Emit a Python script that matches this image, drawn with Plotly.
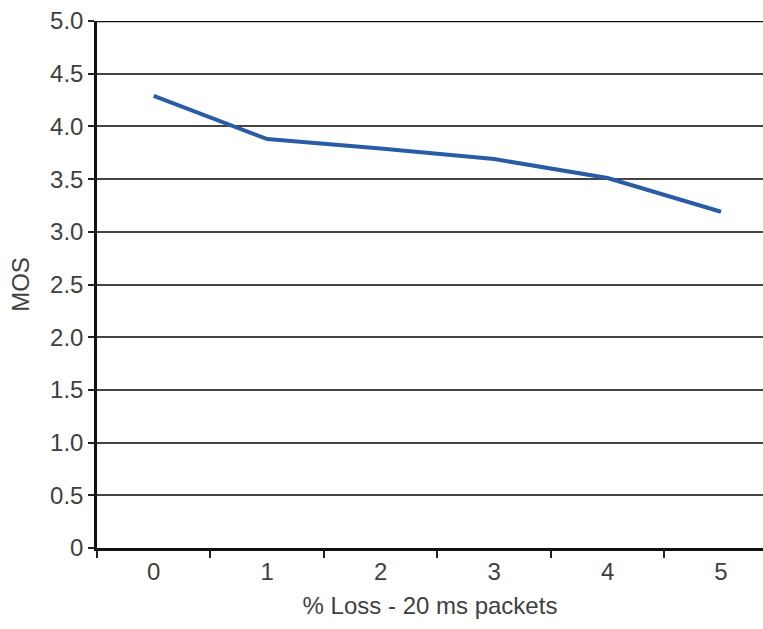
import plotly.graph_objects as go

categories = ["0", "1", "2", "3", "4", "5"]
mos_values = [4.29, 3.88, 3.79, 3.69, 3.51, 3.19]
y_tick_vals = [0, 0.5, 1.0, 1.5, 2.0, 2.5, 3.0, 3.5, 4.0, 4.5, 5.0]
y_tick_text = ["0", "0.5", "1.0", "1.5", "2.0", "2.5", "3.0", "3.5", "4.0", "4.5", "5.0"]

fig = go.Figure()
fig.add_trace(go.Scatter(
    x=categories, y=mos_values, mode="lines",
    line=dict(color="#2a5ca6", width=4),
    showlegend=False, hoverinfo="skip",
))

font = dict(family="Liberation Sans, Arial, sans-serif", size=24, color="#3f3f3f")

fig.update_layout(
    width=763, height=629,
    margin=dict(l=97, r=0, t=21, b=81, autoexpand=False),
    paper_bgcolor="white", plot_bgcolor="white",
    font=font,
    xaxis=dict(
        type="category", range=[-0.5, 5.37], tickson="boundaries",
        ticks="outside", ticklen=7, tickwidth=1.5, tickcolor="#222222",
        showline=True, linecolor="#111111", linewidth=2.5,
        showgrid=False, zeroline=False, tickfont=font, automargin=False,
        title=dict(text="% Loss - 20 ms packets", font=font, standoff=14),
    ),
    yaxis=dict(
        range=[0, 5.0], tickvals=y_tick_vals, ticktext=y_tick_text,
        ticks="outside", ticklen=6, tickwidth=1.5, tickcolor="#222222",
        showline=True, linecolor="#111111", linewidth=2.5,
        showgrid=True, gridcolor="#444444", gridwidth=1.5,
        zeroline=False, tickfont=font, automargin=False,
        title=dict(text="MOS", font=font, standoff=14),
    ),
    shapes=[dict(type="line", xref="paper", yref="y", x0=0, x1=1, y0=5.0, y1=5.0,
                 line=dict(color="#111111", width=2.5))],
)

fig.write_html(
    "out.html",
    config={"displayModeBar": False},
    post_script=(
        "document.documentElement.style.overflow='hidden';"
        "document.body.style.margin='0';document.body.style.overflow='hidden';"
    ),
)
